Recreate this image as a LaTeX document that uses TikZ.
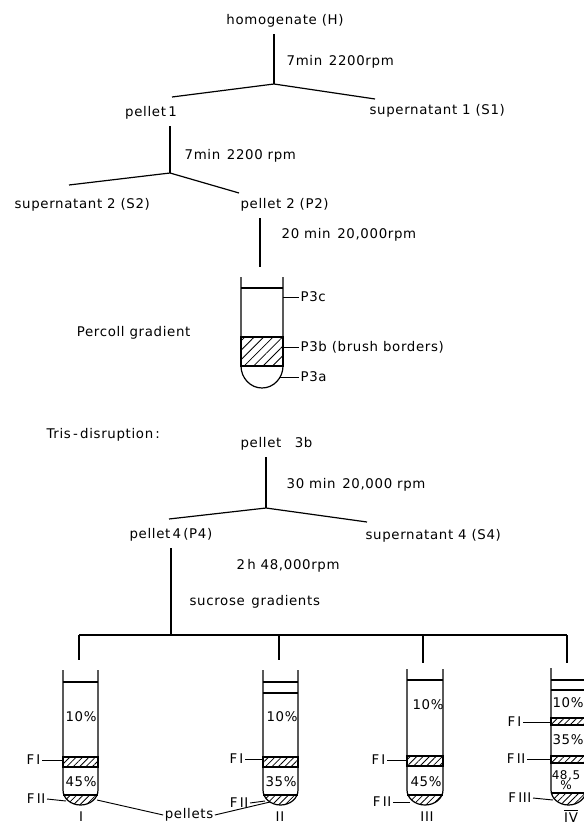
\documentclass[tikz,border=0pt]{standalone}
\usepackage{fontspec}
\setmainfont{DejaVu Sans}[LetterSpace=5]
\usetikzlibrary{patterns,patterns.meta}

\begin{document}
\begin{tikzpicture}[x=0.75pt,y=0.75pt,yscale=-1,xscale=1,
  lbl/.style={font=\fontsize{10}{11}\selectfont, inner sep=1pt},
  stem/.style={line width=0.9pt, shorten <=4pt},
  wall/.style={line width=0.9pt},
  tick/.style={line width=0.7pt},
  band/.style={line width=0.9pt, pattern={Lines[angle=45,distance=3.4pt,line width=0.6pt]}},
  wideband/.style={line width=0.9pt, pattern={Lines[angle=45,distance=5pt,line width=0.6pt]}}]

\useasboundingbox (0,0) rectangle (584,827);

% first spin
\node[lbl] (hom) at (285,21) {homogenate (H)};
\coordinate (j1) at (274,84);
\coordinate (e1a) at (172,97);
\coordinate (e1b) at (375,99);
\draw[stem] (hom.south -| j1) -- (j1);
\draw[line width=0.9pt] (e1a) -- (j1) -- (e1b);
\node[lbl, anchor=west] (spin1) at (285,62) {7min\enspace 2200rpm};
\node[lbl] (pel1) at (151,113) {pellet\,1};
\node[lbl, anchor=west] (sup1) at (368,111) {supernatant 1 (S1)};

% second spin
\coordinate (j2) at (170,173);
\coordinate (e2a) at (69,185);
\coordinate (e2b) at (239,193);
\draw[stem] (pel1.south -| j2) -- (j2);
\draw[line width=0.9pt] (e2a) -- (j2) -- (e2b);
\node[lbl, anchor=west] (spin2) at (183,156) {7min\enspace 2200 rpm};
\node[lbl, anchor=west] (sup2) at (13,205) {supernatant 2 (S2)};
\node[lbl, anchor=west] (pel2) at (239,205) {pellet 2 (P2)};

% percoll tube
\coordinate (j3) at (260,267);
\draw[stem] (pel2.south -| j3) -- (j3);
\node[lbl, anchor=west] (spin3) at (280,235) {20 min\enspace 20,000rpm};
\coordinate (tpL) at (241,277);
\coordinate (tpR) at (283,277);
\draw[wideband] (241,337) rectangle (283,366);
\draw[wall] (tpL) -- (241,366) .. controls (241,378) and (250.4,388) .. (262,388)
  .. controls (273.6,388) and (283,378) .. (283,366) -- (tpR);
\draw[wall] (241,288) -- (283,288);
\node[lbl, anchor=east] (percoll) at (192,333) {Percoll gradient};
\node[lbl, anchor=west] (p3c) at (299,297) {P3c};
\node[lbl, anchor=west] (p3b) at (299,347) {P3b (brush borders)};
\node[lbl, anchor=west] (p3a) at (299,377) {P3a};
\draw[tick] (p3c.west -| tpR) -- (p3c.west);
\draw[tick] (p3b.west -| tpR) -- (p3b.west);
\draw[tick] ([xshift=-3pt]p3a.west -| tpR) -- (p3a.west);

% tris disruption
\node[lbl, anchor=west] (tris) at (45,435) {Tris\,-\,disruption\,:};
\node[lbl, anchor=west] (pel3b) at (239,444) {pellet\quad 3b};
\coordinate (j4) at (266,508);
\coordinate (e4a) at (169,519);
\coordinate (e4b) at (367,522);
\draw[stem] (pel3b.south -| j4) -- (j4);
\draw[line width=0.9pt] (e4a) -- (j4) -- (e4b);
\node[lbl, anchor=west] (spin4) at (285,485) {30 min\enspace 20,000 rpm};
\node[lbl, anchor=west] (pel4) at (128,535) {pellet\,4\,(P4)};
\node[lbl, anchor=west] (sup4) at (364,536) {supernatant 4 (S4)};

% sucrose gradients
\coordinate (j5) at (171,635);
\draw[stem] (pel4.south -| j5) -- (j5);
\node[lbl, anchor=west] (spin5) at (235,566) {2\,h 48,000rpm};
\node[lbl, anchor=west] (sucr) at (188,602) {sucrose\enspace gradients};
\coordinate (d1) at (79,635);
\coordinate (d2) at (279,635);
\coordinate (d3) at (423,635);
\coordinate (d4) at (567,635);
\draw[line width=0.9pt] (d1) -- (d4);
\draw[line width=0.9pt] (d1) -- ++(0,25);
\draw[line width=0.9pt] (d2) -- ++(0,25);
\draw[line width=0.9pt] (d3) -- ++(0,28);
\draw[line width=0.9pt] (d4) -- ++(0,28);

% tube I
\coordinate (t1) at (63,670);
\draw[band] (63,757) rectangle (98,767);
\begin{scope}
\clip (63,790) .. controls (63,798.3) and (70.8,805) .. (80.5,805) .. controls (90.2,805) and (98,798.3) .. (98,790) -- cycle;
\fill[pattern={Lines[angle=45,distance=3.4pt,line width=0.6pt]}] (63,795) rectangle (98,806);
\end{scope}
\draw[wall] (t1) -- (63,790) .. controls (63,798.3) and (70.8,805) .. (80.5,805)
  .. controls (90.2,805) and (98,798.3) .. (98,790) -- (98,670);
\draw[wall] (63,682) -- (98,682);
\draw[wall] (63,795) -- (98,795);
\node[lbl] at (81,717) {10\%};
\node[lbl] at (81,782) {45\%};
\node[lbl, anchor=east] (fIa) at (42,760) {F\,I};
\node[lbl, anchor=east] (fIIa) at (47,799) {F\,II};
\draw[tick] (fIa.east) -- (fIa.east -| t1);
\draw[tick] (fIIa.east) -- (66,801);
\node[lbl] (rI) at (81,817) {I};

% tube II
\coordinate (t2) at (263,670);
\draw[band] (263,757) rectangle (298,767);
\begin{scope}
\clip (263,790) .. controls (263,798.3) and (270.8,805) .. (280.5,805) .. controls (290.2,805) and (298,798.3) .. (298,790) -- cycle;
\fill[pattern={Lines[angle=45,distance=3.4pt,line width=0.6pt]}] (263,795) rectangle (298,806);
\end{scope}
\draw[wall] (t2) -- (263,790) .. controls (263,798.3) and (270.8,805) .. (280.5,805)
  .. controls (290.2,805) and (298,798.3) .. (298,790) -- (298,670);
\draw[wall] (263,682) -- (298,682);
\draw[wall] (263,693) -- (298,693);
\draw[wall] (263,795) -- (298,795);
\node[lbl] at (282,717) {10\%};
\node[lbl] at (281,782) {35\%};
\node[lbl, anchor=east] (fIb) at (245,759) {F\,I};
\node[lbl, anchor=east] (fIIb) at (250,803) {F\,II};
\draw[tick] (fIb.east) -- (fIb.east -| t2);
\draw[tick] (fIIb.east) -- (265,801);
\node[lbl] (rII) at (280,817) {II};

% pellets
\node[lbl] (pel) at (189,815) {pellets};
\draw[tick] (pel.west) -- (97,800);
\draw[tick] (pel.east) -- (270,802);

% tube III
\coordinate (t3) at (407,669);
\draw[band] (407,756) rectangle (443,766);
\begin{scope}
\clip (407,790) .. controls (407,798.3) and (415.1,805) .. (425,805) .. controls (434.9,805) and (443,798.3) .. (443,790) -- cycle;
\fill[pattern={Lines[angle=45,distance=3.4pt,line width=0.6pt]}] (407,795) rectangle (443,806);
\end{scope}
\draw[wall] (t3) -- (407,790) .. controls (407,798.3) and (415.1,805) .. (425,805)
  .. controls (434.9,805) and (443,798.3) .. (443,790) -- (443,669);
\draw[wall] (407,680) -- (443,680);
\draw[wall] (407,795) -- (443,795);
\node[lbl] at (428,705) {10\%};
\node[lbl] at (426,782) {45\%};
\node[lbl, anchor=east] (fIc) at (387,760) {F\,I};
\node[lbl, anchor=east] (fIIc) at (393,802) {F\,II};
\draw[tick] (fIc.east) -- (fIc.east -| t3);
\draw[tick] (fIIc.east) -- (410,802);
\node[lbl] (rIII) at (427,817) {III};

% tube IV
\coordinate (t4) at (551,668);
\draw[band] (551,718) rectangle (586,725);
\draw[band] (551,756) rectangle (586,763);
\begin{scope}
\clip (551,790) .. controls (551,798.3) and (558.8,805) .. (568.5,805) .. controls (578.2,805) and (586,798.3) .. (586,790) -- cycle;
\fill[pattern={Lines[angle=45,distance=3.4pt,line width=0.6pt]}] (551,793) rectangle (586,806);
\end{scope}
\draw[wall] (t4) -- (551,790) .. controls (551,798.3) and (558.8,805) .. (568.5,805)
  .. controls (578.2,805) and (586,798.3) .. (586,790) -- (586,668);
\draw[wall] (551,680) -- (586,680);
\draw[wall] (551,690) -- (586,690);
\draw[wall] (551,793) -- (586,793);
\node[lbl] at (568,703) {10\%};
\node[lbl] at (568,740) {35\%};
\node[lbl, align=center, font=\fontsize{9}{8}\selectfont] at (566,780) {48,5\\\%};
\node[lbl, anchor=east] (fId) at (523,722) {F\,I};
\node[lbl, anchor=east] (fIId) at (527,759) {F\,II};
\node[lbl, anchor=east] (fIIId) at (533,798) {F\,III};
\draw[tick] (fId.east) -- (fId.east -| t4);
\draw[tick] (fIId.east) -- (fIId.east -| t4);
\draw[tick] (fIIId.east) -- (553,800);
\node[lbl] (rIV) at (571,816) {$\overline{\mbox{IV}}$};
\end{tikzpicture}
\end{document}
